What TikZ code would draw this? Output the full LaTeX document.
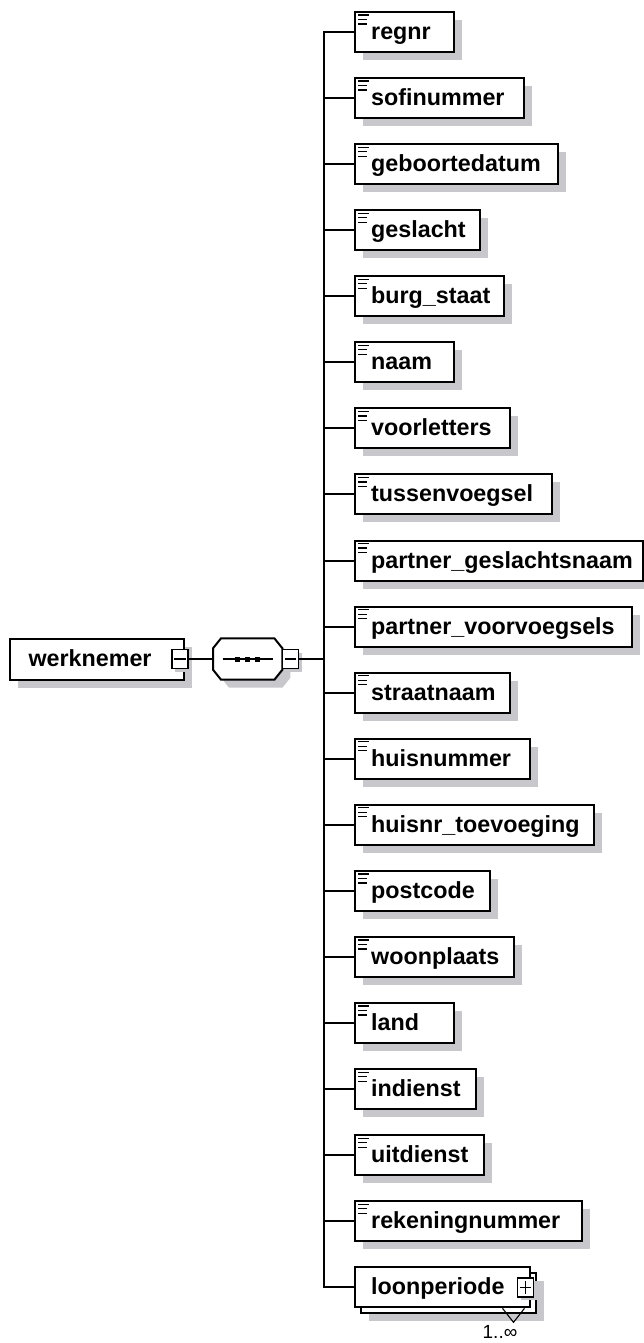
\documentclass[tikz,border=0pt]{standalone}
\usepackage{fontspec}
\setmainfont{Liberation Sans}
\usetikzlibrary{shadows}
\definecolor{shadowgray}{RGB}{200,200,204}
\tikzset{
  elembox/.style={draw=black, line width=2pt, fill=white, rectangle, minimum height=40, inner sep=0pt, anchor=west,
    drop shadow={shadow xshift=8pt, shadow yshift=-8pt, fill=shadowgray, opacity=1, draw=none}},
  plainbox/.style={draw=black, line width=2pt, fill=white, rectangle, minimum height=40, inner sep=0pt, anchor=west},
  lbl/.style={inner sep=0pt, anchor=base west, font=\fontsize{23.3}{28}\selectfont\bfseries},
  card/.style={inner sep=0pt, anchor=base, font=\fontsize{19}{22}\selectfont},
  conn/.style={line width=2pt},
  expbox/.style={draw=black, line width=1.5pt, fill=white, rectangle, minimum width=16, minimum height=19, inner sep=0pt,
    drop shadow={shadow xshift=3pt, shadow yshift=-3pt, fill=shadowgray, opacity=1, draw=none}},
  sign/.style={line width=1.5pt},
  icon/.style={line width=1.2pt},
  vmark/.style={line width=1.1pt},
}
\begin{document}
\begin{tikzpicture}[x=1pt, y=-1pt]
\useasboundingbox (0,0) rectangle (643,1343);

% root element
\node[elembox, minimum width=173.4, minimum height=41] (werknemer) at (9.3,659) {};
\node[lbl] (werknemer-l) at ([shift={(19,7.5)}]werknemer.west) {werknemer};
\node[expbox] (wminus) at (180,659) {};
\draw[sign] ([shift={(3,0)}]wminus.west) -- ([shift={(-3,0)}]wminus.east);

% sequence compositor
\node[minimum width=69, minimum height=41, inner sep=0pt, anchor=west] (seq) at (213,659) {};
\coordinate (o1) at ([shift={(8,0)}]seq.north west);
\coordinate (o2) at ([shift={(-8,0)}]seq.north east);
\coordinate (o3) at ([shift={(0,10)}]seq.north east);
\coordinate (o4) at ([shift={(0,-10)}]seq.south east);
\coordinate (o5) at ([shift={(-8,0)}]seq.south east);
\coordinate (o6) at ([shift={(8,0)}]seq.south west);
\coordinate (o7) at ([shift={(0,-10)}]seq.south west);
\coordinate (o8) at ([shift={(0,10)}]seq.north west);
\fill[shadowgray, transform canvas={xshift=8pt, yshift=-8pt}] (o1) -- (o2) -- (o3) -- (o4) -- (o5) -- (o6) -- (o7) -- (o8) -- cycle;
\draw[conn, fill=white] (o1) -- (o2) -- (o3) -- (o4) -- (o5) -- (o6) -- (o7) -- (o8) -- cycle;
\draw[sign] ([shift={(-25,0)}]seq.center) -- ([shift={(25,0)}]seq.center);
\fill ([shift={(-12.5,-2.5)}]seq.center) rectangle ([shift={(-7.5,2.5)}]seq.center);
\fill ([shift={(-2.5,-2.5)}]seq.center) rectangle ([shift={(2.5,2.5)}]seq.center);
\fill ([shift={(7.5,-2.5)}]seq.center) rectangle ([shift={(12.5,2.5)}]seq.center);
\node[expbox] (sminus) at (290.5,659) {};
\draw[sign] ([shift={(3,0)}]sminus.west) -- ([shift={(-3,0)}]sminus.east);

\draw[conn] (wminus.east) -- (seq.west);
\coordinate (bus) at (324,659);
\draw[conn] (sminus.east) -- (bus);

% child elements
\foreach \nm/\w/\t [count=\i from 0] in {
  regnr/99.3/regnr,
  sofinummer/168.7/sofinummer,
  geboortedatum/203.3/geboortedatum,
  geslacht/125/geslacht,
  burgstaat/148.7/burg\_staat,
  naam/99.3/naam,
  voorletters/155/voorletters,
  tussenvoegsel/197/tussenvoegsel,
  pgeslachtsnaam/287.5/partner\_geslachtsnaam,
  pvoorvoegsels/277/partner\_voorvoegsels,
  straatnaam/155/straatnaam,
  huisnummer/175.3/huisnummer,
  huisnrtoevoeging/239.3/huisnr\_toevoeging,
  postcode/135/postcode,
  woonplaats/158.7/woonplaats,
  land/99.3/land,
  indienst/121/indienst,
  uitdienst/129/uitdienst,
  rekeningnummer/227/rekeningnummer}{
  \node[elembox, minimum width=\w] (\nm) at (354,{32+66.07*\i}) {};
  \node[lbl] (\nm-l) at ([shift={(17,7.5)}]\nm.west) {\t};
  \draw[icon] ([shift={(4,4)}]\nm.north west) -- ([shift={(15,4)}]\nm.north west);
  \draw[icon] ([shift={(4,8.5)}]\nm.north west) -- ([shift={(13,8.5)}]\nm.north west);
  \draw[icon] ([shift={(4,13)}]\nm.north west) -- ([shift={(13,13)}]\nm.north west);
  \draw[conn] (bus) |- (\nm.west);
}

% loonperiode (complex, 1..unbounded)
\node[elembox, minimum width=174.5] (loonback) at (360,1293.3) {};
\node[plainbox, minimum width=174.5] (loonperiode) at (354,1287.3) {};
\node[lbl] (loonperiode-l) at ([shift={(17,7.5)}]loonperiode.west) {loonperiode};
\draw[vmark] ([shift={(-28,0)}]loonperiode.south east) -- ([shift={(-17,14)}]loonperiode.south east) -- ([shift={(-6,0)}]loonperiode.south east);
\node[expbox] (lplus) at (525.5,1287.5) {};
\draw[sign] ([shift={(3,0)}]lplus.west) -- ([shift={(-3,0)}]lplus.east);
\draw[sign] ([shift={(0,3.5)}]lplus.north) -- ([shift={(0,-3.5)}]lplus.south);
\node[card] (card) at (500,1338) {1..∞};
\draw[conn] (bus) |- (loonperiode.west);
\end{tikzpicture}
\end{document}
